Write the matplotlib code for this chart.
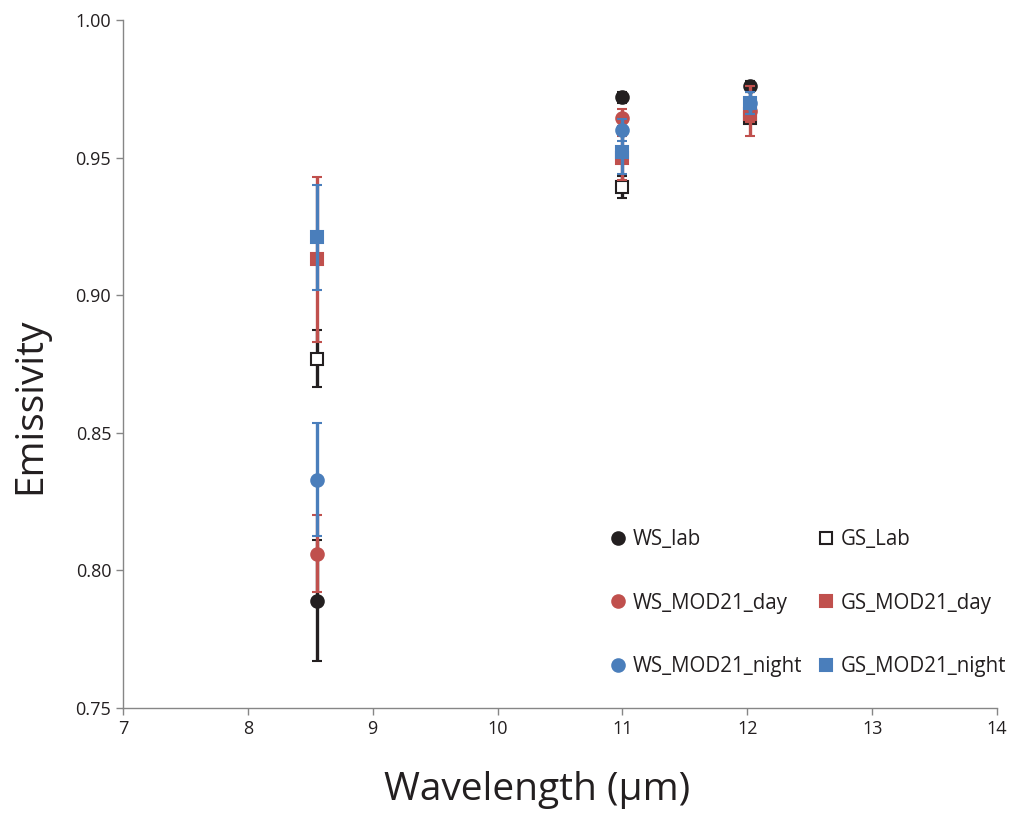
import matplotlib
matplotlib.use("Agg")
import matplotlib.pyplot as plt

plt.rcParams['font.family'] = ['Open Sans', 'DejaVu Sans']

# wavelength positions (um)
wl = [8.55, 11.0, 12.02]

labels = ["WS_lab", "GS_Lab", "WS_MOD21_day", "GS_MOD21_day",
          "WS_MOD21_night", "GS_MOD21_night"]

ws_lab = [0.789, 0.972, 0.976]
ws_lab_err = [0.022, 0.002, 0.002]
gs_lab = [0.877, 0.9395, 0.9645]
gs_lab_err = [0.0105, 0.004, 0.002]
ws_day = [0.806, 0.9645, 0.967]
ws_day_err = [0.014, 0.003, 0.009]
gs_day = [0.913, 0.950, 0.966]
gs_day_err = [0.030, 0.008, 0.003]
ws_night = [0.833, 0.960, 0.970]
ws_night_err = [0.0205, 0.004, 0.004]
gs_night = [0.921, 0.952, 0.970]
gs_night_err = [0.019, 0.008, 0.004]

black = "#231f20"
red = "#c0504d"
blue = "#4a7ebb"

fig = plt.figure(figsize=(10.14, 8.14), dpi=100)
ax = fig.add_axes([0.1213, 0.1302, 0.862, 0.8452])

series = [
    (ws_lab, ws_lab_err, black, "o", black, labels[0]),
    (gs_lab, gs_lab_err, black, "s", "white", labels[1]),
    (ws_day, ws_day_err, red, "o", red, labels[2]),
    (gs_day, gs_day_err, red, "s", red, labels[3]),
    (ws_night, ws_night_err, blue, "o", blue, labels[4]),
    (gs_night, gs_night_err, blue, "s", blue, labels[5]),
]

for i, (y, e, c, m, fc, lab) in enumerate(series):
    ax.errorbar(wl, y, yerr=e, fmt=m, color=c, mfc=fc, mec=c,
                ms=9 if m == "o" else 8.5, mew=1.5, elinewidth=2.4,
                capsize=3.5, capthick=2.6, label=lab, zorder=3 + i)

ax.set_xlim(7, 14)
ax.set_ylim(0.75, 1.00)
ax.set_xticks(range(7, 15))
ax.set_yticks([0.75, 0.80, 0.85, 0.90, 0.95, 1.00])
ax.set_yticklabels(["0.75", "0.80", "0.85", "0.90", "0.95", "1.00"])

for s in ["top", "right"]:
    ax.spines[s].set_visible(False)
for s in ["left", "bottom"]:
    ax.spines[s].set_color("#868686")
    ax.spines[s].set_linewidth(1.0)
ax.tick_params(axis="both", direction="out", length=5, width=1.0,
               color="#868686", labelsize=13, labelcolor="#231f20")

ax.set_xlabel("Wavelength (µm)", fontsize=28, color="#231f20", va="top")
ax.set_ylabel("Emissivity", fontsize=28, color="#231f20", va="center")
ax.xaxis.set_label_coords(0.474, -0.092)
ax.yaxis.set_label_coords(-0.106, 0.44)

order = [labels[0], labels[2], labels[4], labels[1], labels[3], labels[5]]
leg_h = []
for lab in order:
    y, e, c, m, fc, _ = series[labels.index(lab)]
    leg_h.append(plt.Line2D([], [], ls="none", marker=m, color=c, mfc=fc,
                            mec=c, ms=9 if m == "o" else 8.5, mew=1.5))
ax.legend(leg_h, order, ncol=2, frameon=False, fontsize=14.8,
          loc="upper left", bbox_to_anchor=(0.543, 0.275),
          labelspacing=2.07, handletextpad=0.2, columnspacing=0.67,
          handlelength=1.0, labelcolor="#231f20", borderpad=0)

fig.savefig("out.png", dpi=100)
